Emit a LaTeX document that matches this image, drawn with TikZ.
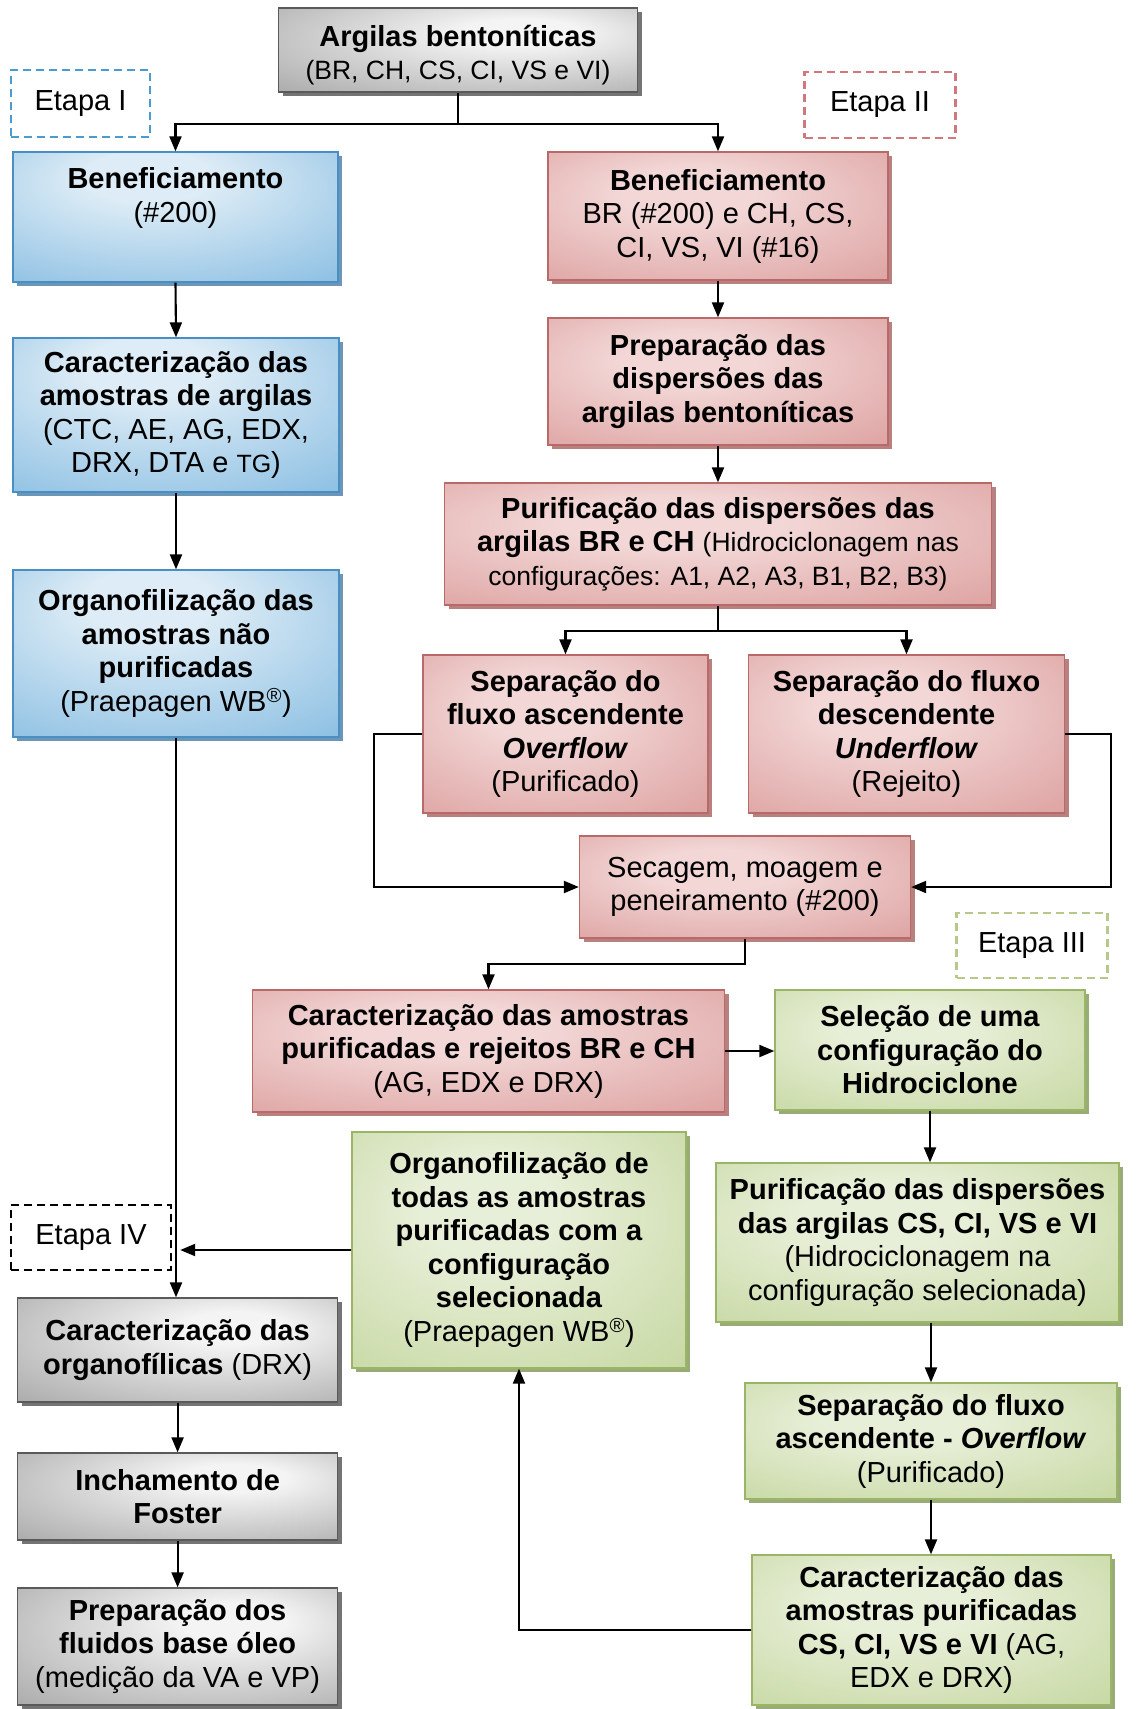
\documentclass[tikz,border=0pt]{standalone}
\usepackage{fontspec}
\setmainfont{Liberation Sans}
\usetikzlibrary{arrows.meta,shadows}
\newcommand\myfs{\fontsize{29}{33.5}\selectfont}
\newcommand\mysm{\fontsize{26.5}{33.5}\selectfont}
\definecolor{bA}{HTML}{DDECF6}
\definecolor{bB}{HTML}{8DC0E3}
\definecolor{bC}{HTML}{559BD1}
\definecolor{bD}{HTML}{4A8FC4}
\definecolor{bS}{HTML}{2F6A99}
\definecolor{rA}{HTML}{F2D7D6}
\definecolor{rB}{HTML}{DCA09F}
\definecolor{rC}{HTML}{C27270}
\definecolor{rD}{HTML}{B96A68}
\definecolor{rS}{HTML}{9A4C4A}
\definecolor{gA}{HTML}{E8EFD8}
\definecolor{gB}{HTML}{C5D7A0}
\definecolor{gC}{HTML}{9EB968}
\definecolor{gD}{HTML}{9AB566}
\definecolor{gS}{HTML}{6F8A3E}
\definecolor{kA}{HTML}{F4F4F4}
\definecolor{kB}{HTML}{ABABAB}
\definecolor{kC}{HTML}{5A5A5A}
\definecolor{kD}{HTML}{5A5A5A}
\definecolor{kS}{HTML}{3A3A3A}
\definecolor{eB}{HTML}{4A9BD0}
\definecolor{eR}{HTML}{D0787C}
\definecolor{eG}{HTML}{B7C98A}
\pgfdeclareradialshading{bluesh}{\pgfpoint{-5bp}{18bp}}{color(0bp)=(bA); color(10bp)=(bA); color(42bp)=(bB); color(70bp)=(bC)}
\pgfdeclareradialshading{redsh}{\pgfpoint{-5bp}{10bp}}{color(0bp)=(rA); color(10bp)=(rA); color(42bp)=(rB); color(70bp)=(rC)}
\pgfdeclareradialshading{greensh}{\pgfpoint{-5bp}{10bp}}{color(0bp)=(gA); color(10bp)=(gA); color(42bp)=(gB); color(70bp)=(gC)}
\pgfdeclareradialshading{graysh}{\pgfpoint{10bp}{12bp}}{color(0bp)=(kA); color(8bp)=(kA); color(42bp)=(kB); color(70bp)=(kC)}
\begin{document}
\begin{tikzpicture}[x=1pt,y=-1pt,
  txt/.style={font=\myfs, align=center, inner sep=0pt, text=black},
  box/.style={txt, draw, line width=1.3pt, shade},
  bluebox/.style={box, draw=bD, shading=bluesh, drop shadow={shadow xshift=4pt,shadow yshift=-4pt,fill=bS,opacity=.7}},
  redbox/.style={box, draw=rD, shading=redsh, drop shadow={shadow xshift=4pt,shadow yshift=-4pt,fill=rS,opacity=.7}},
  greenbox/.style={box, draw=gD, shading=greensh, drop shadow={shadow xshift=4pt,shadow yshift=-4pt,fill=gS,opacity=.7}},
  graybox/.style={box, draw=kD, shading=graysh, drop shadow={shadow xshift=4pt,shadow yshift=-4pt,fill=kS,opacity=.7}},
  sz/.style 2 args={minimum width=#1pt, minimum height=#2pt},
  etapa/.style={txt, draw, line width=2.4pt, dash pattern=on 8pt off 5pt},
  arr/.style={line width=2.1pt, -{Triangle[length=15pt,width=12pt]}}]
\useasboundingbox[fill=white] (0,0) rectangle (1143,1709);

% top
\node[graybox, sz={359}{84}, label={[txt,yshift=-5pt]center:{\textbf{Argilas bentoníticas}\\{\mysm(BR, CH, CS, CI, VS e VI)}}}] (A) at (458,50) {};
\node[etapa, draw=eB, sz={139}{67}] (E1) at (80.5,103.5) {Etapa I};
\node[etapa, draw=eR, sz={151}{66}] (E2) at (880,105) {Etapa II};

% left column
\node[bluebox, sz={325}{130}] (B1) at (175.5,217) {\textbf{Beneficiamento}\\(\#200)\\\strut};
\node[bluebox, sz={326}{154}] (C1) at (176,415) {\textbf{Caracterização das}\\\textbf{amostras de argilas}\\(CTC, AE, AG, EDX,\\DRX, DTA e {\fontsize{25}{33.5}\selectfont TG})};
\node[bluebox, sz={326}{167}] (O1) at (176,653.5) {\textbf{Organofilização das}\\\textbf{amostras não}\\\textbf{purificadas}\\(Praepagen WB\textsuperscript{\textregistered})};

% right column (stage II)
\node[redbox, sz={340}{128}] (R1) at (718,216) {\textbf{Beneficiamento}\\BR (\#200) e CH, CS,\\CI, VS, VI (\#16)};
\node[redbox, sz={340}{127}] (R2) at (718,381.5) {\textbf{Preparação das}\\\textbf{dispersões das}\\\textbf{argilas bentoníticas}};
\node[redbox, sz={547}{122}] (R3) at (718,544) {\textbf{Purificação das dispersões das}\\\textbf{argilas BR e CH} {\mysm(Hidrociclonagem nas}\\{\mysm configurações: A1, A2, A3, B1, B2, B3)}};
\node[redbox, sz={285}{158}] (R4) at (565.5,734) {\textbf{Separação do}\\\textbf{fluxo ascendente}\\\textbf{\itshape Overflow}\\(Purificado)};
\node[redbox, sz={316}{158}] (R5) at (906.5,734) {\textbf{Separação do fluxo}\\\textbf{descendente}\\\textbf{\itshape Underflow}\\(Rejeito)};
\node[redbox, sz={331}{102}] (R6) at (745,887) {Secagem, moagem e\\peneiramento (\#200)};
\node[etapa, draw=eG, sz={151}{65}] (E3) at (1032,945.5) {Etapa III};
\node[redbox, sz={472}{122}] (R7) at (488.5,1051) {\textbf{Caracterização das amostras}\\\textbf{purificadas e rejeitos BR e CH}\\(AG, EDX e DRX)};

% stage III
\node[greenbox, sz={310}{120}] (V1) at (930,1050) {\textbf{Seleção de uma}\\\textbf{configuração do}\\\textbf{Hidrociclone}};
\node[greenbox, sz={334}{236}] (V5) at (519,1250) {\textbf{Organofilização de}\\\textbf{todas as amostras}\\\textbf{purificadas com a}\\\textbf{configuração}\\\textbf{selecionada}\\(Praepagen WB\textsuperscript{\textregistered})};
\node[greenbox, sz={403}{159}] (V2) at (917.5,1242.5) {\textbf{Purificação das dispersões}\\\textbf{das argilas CS, CI, VS e VI}\\(Hidrociclonagem na\\configuração selecionada)};
\node[greenbox, sz={372}{116}] (V3) at (931,1441) {\textbf{Separação do fluxo}\\\textbf{ascendente - \itshape Overflow}\\(Purificado)};
\node[greenbox, sz={359}{150}] (V4) at (931.5,1630) {\textbf{Caracterização das}\\\textbf{amostras purificadas}\\\textbf{CS, CI, VS e VI} (AG,\\EDX e DRX)};

% stage IV
\node[etapa, draw=black, sz={160}{65}] (E4) at (91,1237.5) {Etapa IV};
\node[graybox, sz={320}{104}] (G1) at (177.6,1350) {\textbf{Caracterização das}\\\textbf{organofílicas} (DRX)};
\node[graybox, sz={320}{87}] (G2) at (177.6,1496.5) {\textbf{Inchamento de}\\\textbf{Foster}};
\node[graybox, sz={320}{117}] (G3) at (177.6,1646.5) {\textbf{Preparação dos}\\\textbf{fluidos base óleo}\\(medição da VA e VP)};

% connectors
\coordinate (t0) at ([yshift=-31pt]A.south);
\draw[arr] (A.south) -- (t0) -| (B1.north);
\draw[arr] (t0) -| (R1.north);
\draw[arr] (B1.south) -- (C1.north);
\draw[arr] (C1.south) -- (O1.north);
\draw[arr] (O1.south) -- (O1.south |- G1.north);
\draw[arr] (G1.south) -- (G2.north);
\draw[arr] (G2.south) -- (G3.north);
\draw[arr] (R1.south) -- (R2.north);
\draw[arr] (R2.south) -- (R3.north);
\coordinate (sp) at ([yshift=-25pt]R3.south);
\draw[arr] (R3.south) -- (sp) -| (R4.north);
\draw[arr] (sp) -| (R5.north);
\coordinate (l1) at ([xshift=-48pt]R4.west);
\draw[arr] (R4.west) -- (l1) |- (R6.west);
\coordinate (r1) at ([xshift=45.5pt]R5.east);
\draw[arr] (R5.east) -- (r1) |- (R6.east);
\coordinate (m6) at ([yshift=-25pt]R6.south);
\draw[arr] (R6.south) -- (m6) -| (R7.north);
\draw[arr] (R7.east) -- (R7.east -| V1.west);
\draw[arr] (V1.south) -- (V1.south |- V2.north);
\draw[arr] (V3.north |- V2.south) -- (V3.north);
\draw[arr] (V3.south) -- (V3.south |- V4.north);
\draw[arr] (V4.west) -| (V5.south);
\draw[arr] (V5.west) -- ([xshift=8pt]E4.east |- V5.west);
\end{tikzpicture}
\end{document}
